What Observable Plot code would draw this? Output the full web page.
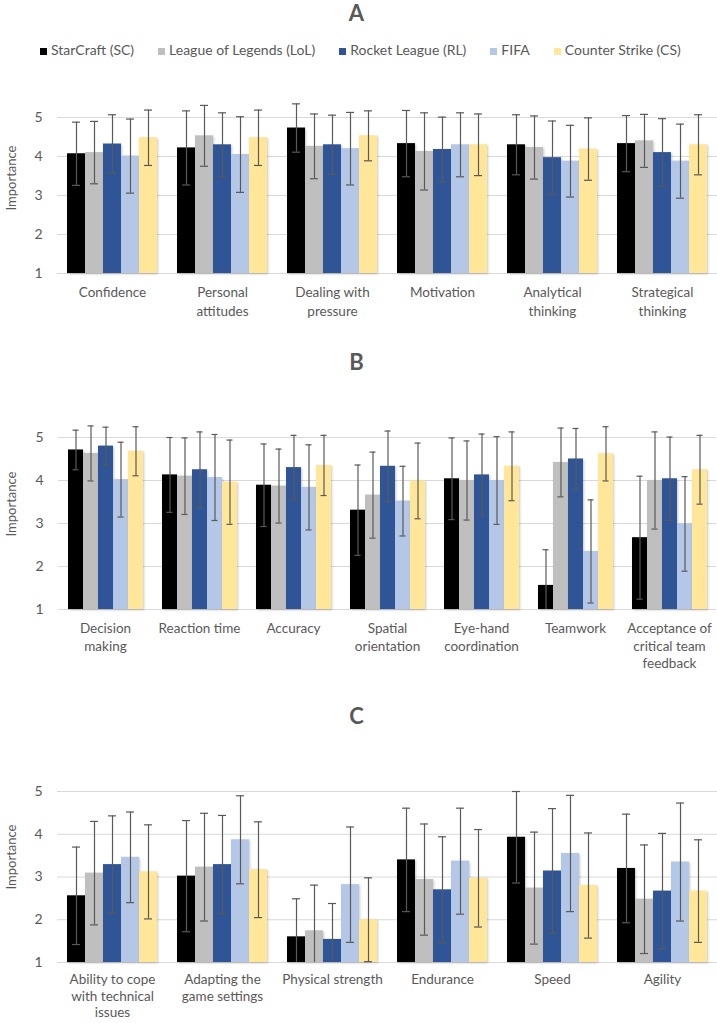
<!DOCTYPE html>
<html>
<head>
<meta charset="utf-8">
<script src="https://cdn.jsdelivr.net/npm/d3@7"></script>
<script src="https://cdn.jsdelivr.net/npm/@observablehq/plot@0.6"></script>
<style>
  body { margin: 0; width: 717px; height: 1023px; position: relative; background: #fff; overflow: hidden; font-family: Lato, "Open Sans", sans-serif; color: #595959; }
  .title { position: absolute; left: 0; width: 713px; text-align: center; font-weight: bold; font-size: 22px; line-height: 22px; }
  .ylab { position: absolute; left: 11px; transform: translate(-50%, -50%) rotate(-90deg); white-space: nowrap; font-size: 13px; }
  .panel { position: absolute; left: 0; }
  #legend { position: absolute; top: 42px; left: 40px; display: flex; gap: 24px; font-size: 14px; line-height: 16px; white-space: nowrap; }
  #legend .item { display: flex; align-items: center; }
  #legend .sw { width: 7px; height: 7px; margin-right: 4px; margin-top: 2px; }
  svg g[aria-label="bar"] rect { filter: drop-shadow(1.5px 1px 1px rgba(0,0,0,0.22)); }
</style>
</head>
<body>
<div class="title" style="top:2px">A</div>
<div id="legend"></div>
<div class="panel" id="panelA" style="top:90px"></div>
<div class="ylab" style="top:178px">Importance</div>
<div class="title" style="top:351px">B</div>
<div class="panel" id="panelB" style="top:400px"></div>
<div class="ylab" style="top:504px">Importance</div>
<div class="title" style="top:705px">C</div>
<div class="panel" id="panelC" style="top:745px"></div>
<div class="ylab" style="top:857px">Importance</div>
<script>
const games = ["StarCraft (SC)", "League of Legends (LoL)", "Rocket League (RL)", "FIFA", "Counter Strike (CS)"];
const colors = ["#000000", "#bfbfbf", "#2f5597", "#b4c7e7", "#ffe699"];
const yTicks = [1, 2, 3, 4, 5];

// Panel A
const skillsA = ["Confidence", "Personal attitudes", "Dealing with pressure", "Motivation", "Analytical thinking", "Strategical thinking"];
const labelsA = ["Confidence", "Personal\nattitudes", "Dealing with\npressure", "Motivation", "Analytical\nthinking", "Strategical\nthinking"];
const meansA = [
  [4.07, 4.22, 4.73, 4.33, 4.30, 4.33],
  [4.10, 4.53, 4.26, 4.13, 4.23, 4.40],
  [4.32, 4.30, 4.30, 4.18, 3.97, 4.10],
  [4.01, 4.05, 4.20, 4.30, 3.88, 3.88],
  [4.48, 4.48, 4.53, 4.30, 4.19, 4.30]
];
const sdA = [
  [0.81, 0.95, 0.62, 0.85, 0.77, 0.72],
  [0.80, 0.78, 0.83, 0.99, 0.81, 0.68],
  [0.75, 0.82, 0.76, 0.83, 0.94, 0.87],
  [0.95, 0.97, 0.93, 0.82, 0.92, 0.95],
  [0.71, 0.71, 0.64, 0.79, 0.80, 0.77]
];

// Panel B
const skillsB = ["Decision making", "Reaction time", "Accuracy", "Spatial orientation", "Eye-hand coordination", "Teamwork", "Acceptance of critical team feedback"];
const labelsB = ["Decision\nmaking", "Reaction time", "Accuracy", "Spatial\norientation", "Eye-hand\ncoordination", "Teamwork", "Acceptance of\ncritical team\nfeedback"];
const meansB = [
  [4.71, 4.13, 3.89, 3.31, 4.04, 1.56, 2.67],
  [4.63, 4.10, 3.87, 3.66, 4.00, 4.42, 4.00],
  [4.80, 4.25, 4.30, 4.33, 4.13, 4.50, 4.04],
  [4.02, 4.07, 3.84, 3.52, 4.00, 2.35, 2.99],
  [4.68, 3.96, 4.35, 3.99, 4.33, 4.62, 4.25]
];
const sdB = [
  [0.46, 0.87, 0.96, 1.05, 0.95, 0.83, 1.43],
  [0.64, 0.89, 0.86, 1.00, 0.92, 0.80, 1.13],
  [0.44, 0.88, 0.75, 0.82, 0.95, 0.71, 0.97],
  [0.87, 1.00, 0.99, 0.81, 1.02, 1.20, 1.10],
  [0.57, 0.98, 0.70, 0.88, 0.80, 0.63, 0.80]
];

// Panel C
const skillsC = ["Ability to cope with technical issues", "Adapting the game settings", "Physical strength", "Endurance", "Speed", "Agility"];
const labelsC = ["Ability to cope\nwith technical\nissues", "Adapting the\ngame settings", "Physical strength", "Endurance", "Speed", "Agility"];
const meansC = [
  [2.56, 3.02, 1.60, 3.40, 3.93, 3.20],
  [3.09, 3.23, 1.74, 2.94, 2.74, 2.48],
  [3.29, 3.29, 1.54, 2.70, 3.14, 2.67],
  [3.46, 3.87, 2.82, 3.37, 3.55, 3.35],
  [3.12, 3.17, 2.00, 2.97, 2.80, 2.67]
];
const sdC = [
  [1.14, 1.30, 0.89, 1.21, 1.07, 1.27],
  [1.21, 1.26, 1.07, 1.30, 1.31, 1.27],
  [1.14, 1.15, 0.84, 1.24, 1.46, 1.35],
  [1.06, 1.03, 1.35, 1.24, 1.36, 1.38],
  [1.10, 1.12, 0.98, 1.14, 1.23, 1.20]
];

// Legend
const legend = document.getElementById("legend");
games.forEach((g, i) => {
  const item = document.createElement("div");
  item.className = "item";
  const sw = document.createElement("span");
  sw.className = "sw";
  sw.style.background = colors[i];
  const t = document.createElement("span");
  t.textContent = g;
  item.appendChild(sw);
  item.appendChild(t);
  legend.appendChild(item);
});

function panel(skills, labels, means, sds, opt) {
  const rows = [];
  skills.forEach((s, j) => games.forEach((g, i) => rows.push({skill: s, game: g, mean: means[i][j], sd: sds[i][j]})));
  const errStroke = "#595959";
  return Plot.plot({
    width: 717,
    height: opt.height,
    marginLeft: 57,
    marginRight: 0,
    marginTop: opt.marginTop,
    marginBottom: opt.marginBottom,
    style: {fontFamily: "Lato, 'Open Sans', sans-serif", fontSize: "13px", color: "#595959", background: "transparent", overflow: "visible"},
    facet: {data: rows, x: "skill", label: null},
    fx: {domain: skills, padding: 0, label: null},
    x: {domain: games, paddingInner: 0, paddingOuter: opt.padOuter, axis: null},
    y: {domain: [1, 5]},
    color: {domain: games, range: colors},
    marks: [
      Plot.gridY(yTicks, {stroke: "#d9d9d9", strokeOpacity: 1}),
      Plot.barY(rows, {x: "game", y1: 1, y2: "mean", fill: "game"}),
      Plot.ruleX(rows, {x: "game", y1: d => Math.max(1, d.mean - d.sd), y2: d => d.mean + d.sd, stroke: errStroke, strokeWidth: 1.2}),
      Plot.tickY(rows, {x: "game", y: d => d.mean + d.sd, stroke: errStroke, strokeWidth: 1.2, insetLeft: opt.capInset, insetRight: opt.capInset}),
      Plot.tickY(rows, {filter: d => d.mean - d.sd >= 1, x: "game", y: d => d.mean - d.sd, stroke: errStroke, strokeWidth: 1.2, insetLeft: opt.capInset, insetRight: opt.capInset}),
      Plot.axisY({ticks: yTicks, tickSize: 0, tickPadding: 15, label: null, fontSize: 14, tickFormat: d => String(d)}),
      Plot.axisFx({anchor: "bottom", tickSize: 0, tickPadding: opt.labelPad, label: null, lineHeight: opt.lineHeight, fontSize: 13.5, tickFormat: d => labels[skills.indexOf(d)]})
    ]
  });
}

document.getElementById("panelA").appendChild(panel(skillsA, labelsA, meansA, sdA, {height: 240, marginTop: 27, marginBottom: 57, padOuter: 0.52, capInset: 5, labelPad: 11, lineHeight: 1.35}));
document.getElementById("panelB").appendChild(panel(skillsB, labelsB, meansB, sdB, {height: 280, marginTop: 37, marginBottom: 71, padOuter: 0.45, capInset: 4.5, labelPad: 11, lineHeight: 1.3}));
document.getElementById("panelC").appendChild(panel(skillsC, labelsC, meansC, sdC, {height: 278, marginTop: 46, marginBottom: 61, padOuter: 0.52, capInset: 5, labelPad: 10, lineHeight: 1.22}));
</script>
</body>
</html>
